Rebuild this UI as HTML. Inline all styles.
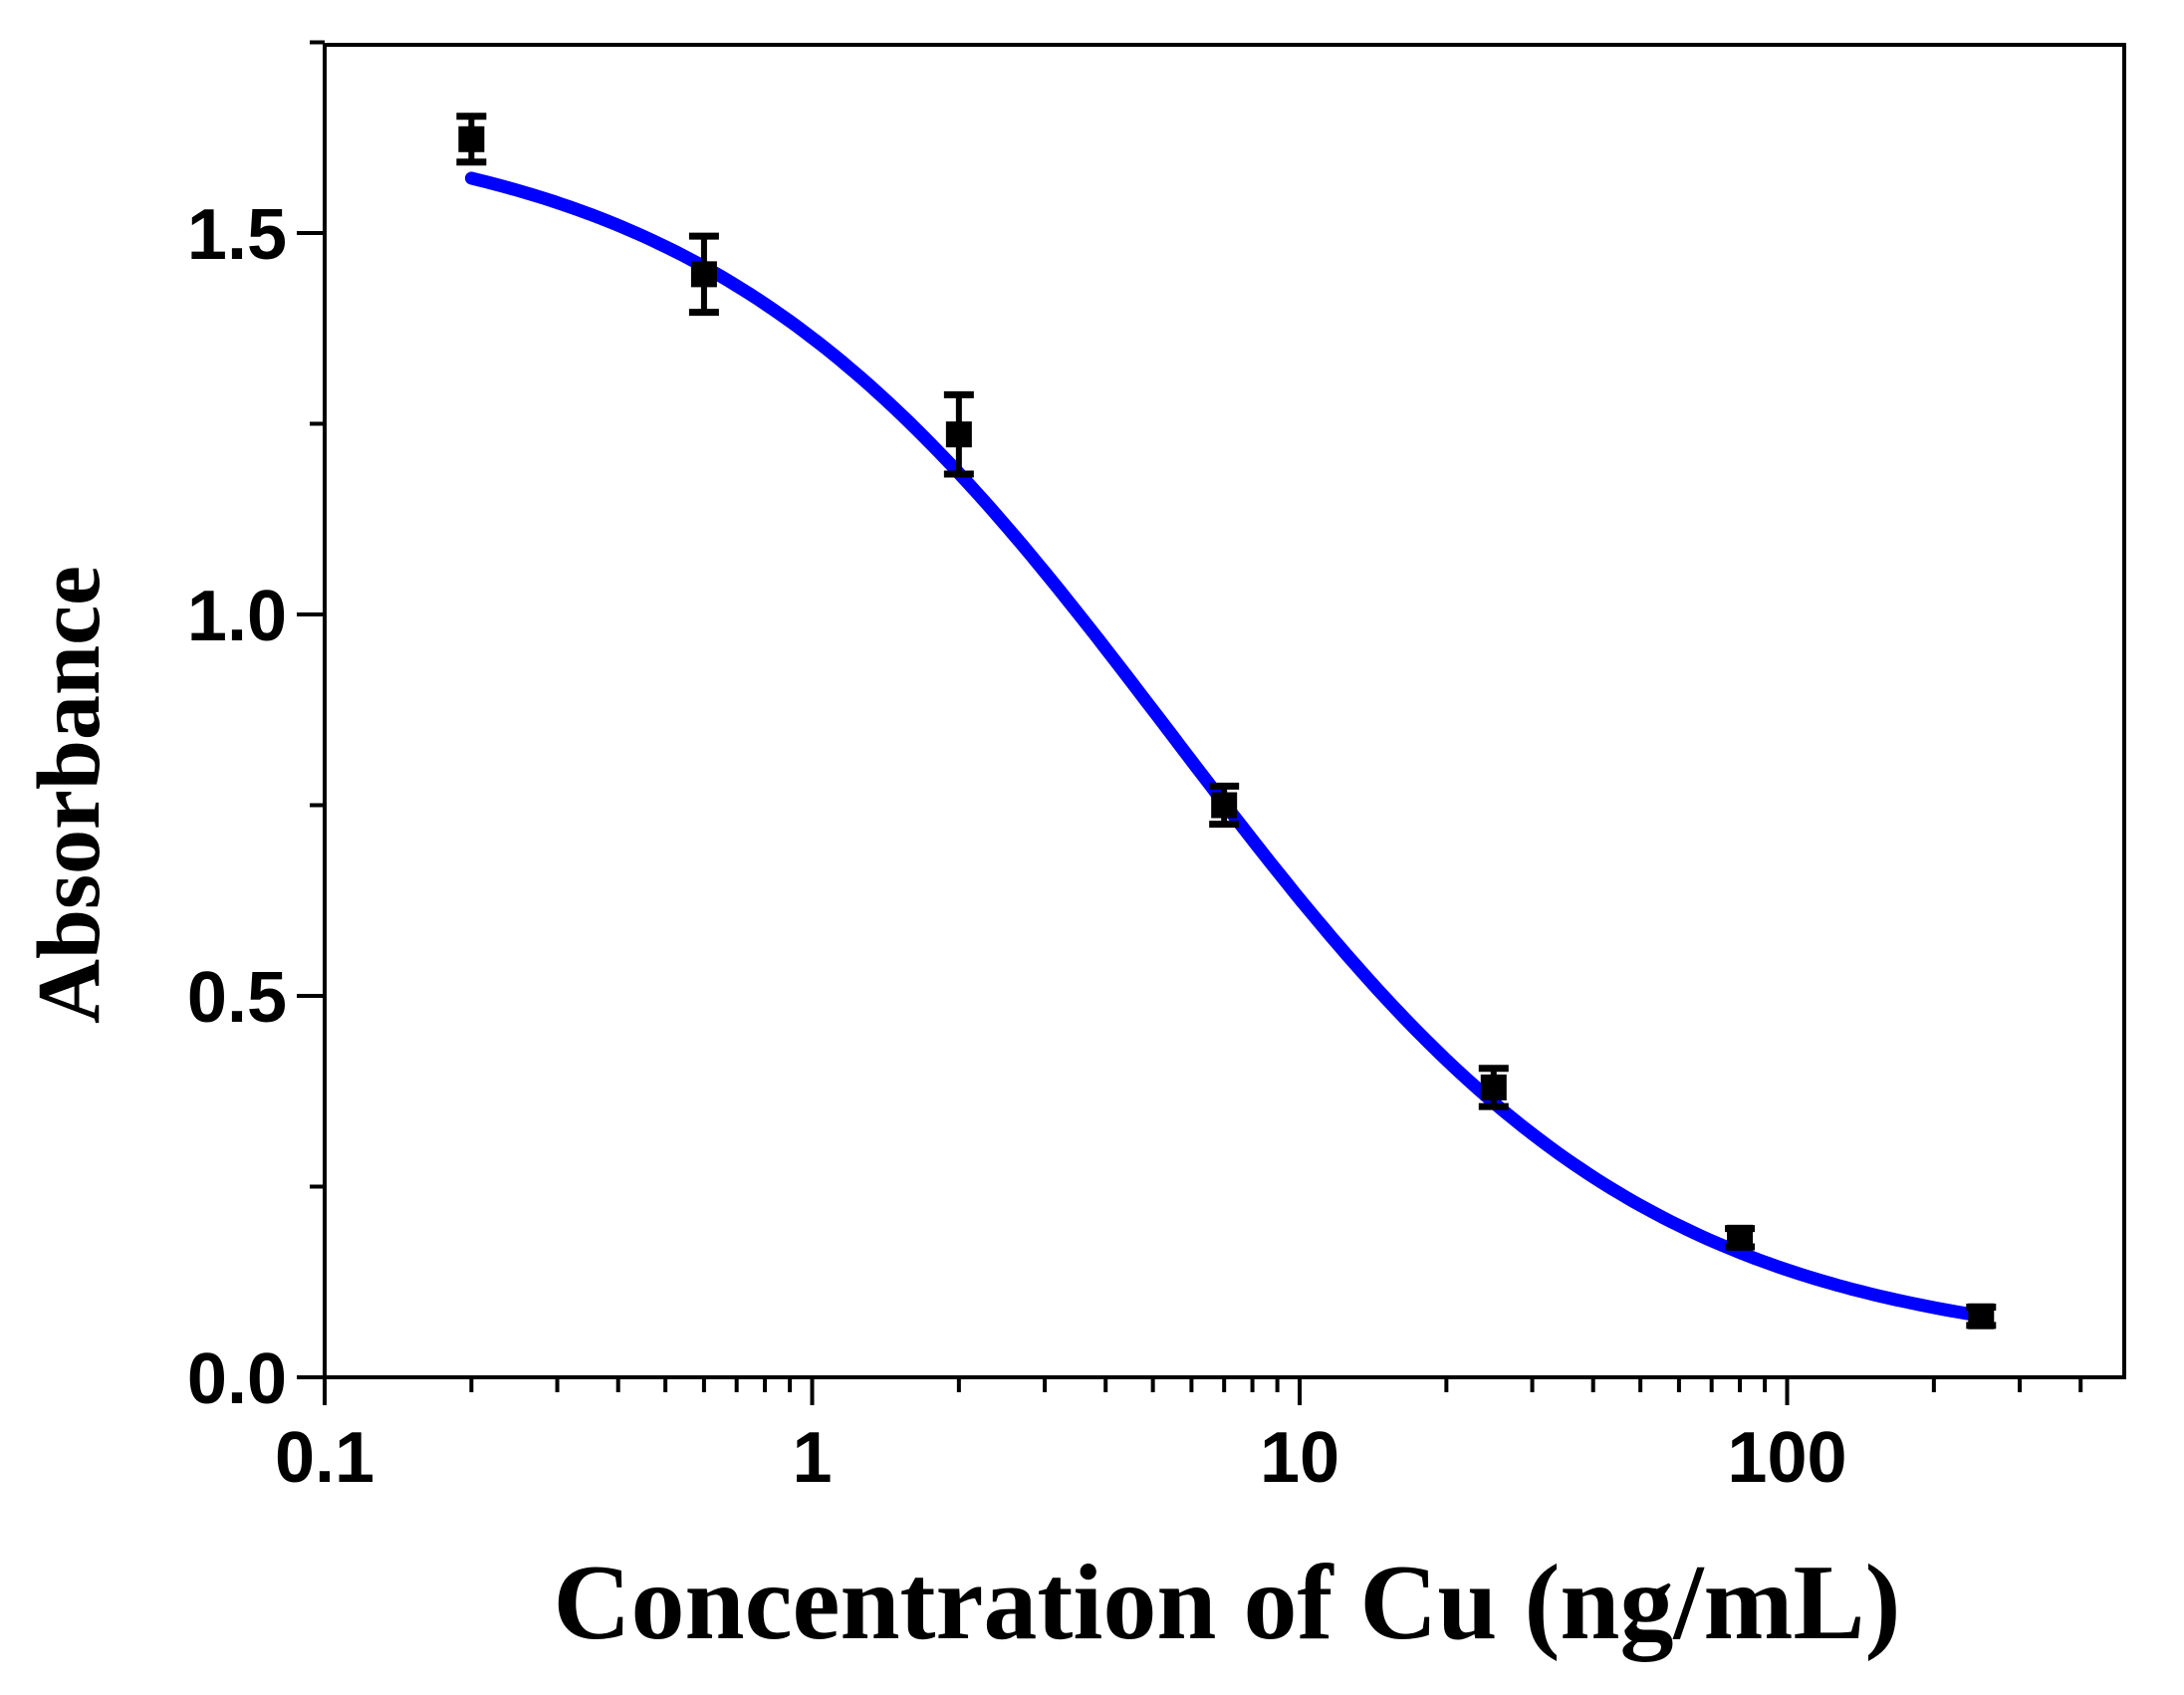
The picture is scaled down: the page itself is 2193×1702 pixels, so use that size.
<!DOCTYPE html>
<html><head><meta charset="utf-8"><style>
html,body{margin:0;padding:0;background:#fff;}
svg{display:block;}
.tick{font-family:"Liberation Sans",Arial,sans-serif;font-weight:bold;font-size:72px;fill:#000;}
.title{font-family:"Liberation Serif","Times New Roman",serif;font-weight:bold;fill:#000;}
</style></head><body>
<svg id="chart" width="2193" height="1702" viewBox="0 0 2193 1702" xmlns="http://www.w3.org/2000/svg">
<g id="axes"></g>
<g id="curve"></g>
<g id="points"></g>
<text class="title" x="1232" y="1645" text-anchor="middle" font-size="108">Concentration of Cu (ng/mL)</text>
<text class="title" transform="translate(99,798) rotate(-90)" text-anchor="middle" font-size="90">Absorbance</text>
</svg>
<script>
const concentrations = [0.2, 0.6, 2, 7, 25, 80, 250];
const absorbance = [1.623, 1.446, 1.236, 0.75, 0.38, 0.183, 0.08];
const errors = [0.03, 0.05, 0.052, 0.025, 0.025, 0.012, 0.012];
const fitParams = [1.65, 0.03, 5.5, 0.9]; // top, bottom, EC50, slope
const xTickValues = [0.1, 1, 10, 100];
const xTickLabels = ["0.1", "1", "10", "100"];
const yTickValues = [0, 0.5, 1.0, 1.5];
const yTickLabels = ["0.0", "0.5", "1.0", "1.5"];

const L = 326, R = 2133, T = 45, B = 1383;
const xMin = 0.1, decadePx = 489.5;
const yPerUnit = 766;
function X(v){ return L + Math.log10(v / xMin) * decadePx; }
function Y(v){ return B - v * yPerUnit; }
const NS = "http://www.w3.org/2000/svg";
function mk(tag, attrs, parent){
  const e = document.createElementNS(NS, tag);
  for (const k in attrs) e.setAttribute(k, attrs[k]);
  parent.appendChild(e);
  return e;
}
const axes = document.getElementById('axes');
const frame = mk('rect', {x:L, y:T, width:R-L, height:B-T, fill:'none', stroke:'#000', 'stroke-width':4}, axes);



const xMaxVal = xMin * Math.pow(10, (R - L) / decadePx);
for (let d = -1; d <= 2; d++) {
  for (let m = 1; m <= 9; m++) {
    const v = m * Math.pow(10, d);
    if (v > xMaxVal * 1.001) continue;
    const x = X(v);
    const len = m === 1 ? 28 : 15;
    const t = mk('line', {x1:x, y1:B, x2:x, y2:B+len, stroke:'#000', 'stroke-width':4}, axes);
    
    
  }
}
xTickValues.forEach((v, i) => {
  const t = mk('text', {x:X(v), y:1488, 'text-anchor':'middle', class:'tick'}, axes);
  t.textContent = xTickLabels[i];
  
  
});
for (let v = 0; v <= 1.75; v += 0.25) {
  const major = Math.abs(v * 2 - Math.round(v * 2)) < 1e-6;
  const y = Y(v);
  const t = mk('line', {x1:L, y1:y, x2:L-(major?28:15), y2:y, stroke:'#000', 'stroke-width':4}, axes);
  
  
}
yTickValues.forEach((v, i) => {
  const t = mk('text', {x:288, y:Y(v)+26, 'text-anchor':'end', class:'tick'}, axes);
  t.textContent = yTickLabels[i];
  
  
});

function fit(c){
  const [top, bot, x0, p] = fitParams;
  return bot + (top - bot) / (1 + Math.pow(c / x0, p));
}
const c0 = concentrations[0], c1 = concentrations[concentrations.length - 1];
let dstr = '';
for (let i = 0; i <= 200; i++) {
  const c = c0 * Math.pow(c1 / c0, i / 200);
  dstr += (i ? 'L' : 'M') + X(c).toFixed(1) + ' ' + Y(fit(c)).toFixed(1);
}
const path = mk('path', {d:dstr, fill:'none', stroke:'#0000ff', 'stroke-width':13, 'stroke-linecap':'round', 'stroke-linejoin':'round'}, document.getElementById('curve'));



const pts = document.getElementById('points');
concentrations.forEach((c, i) => {
  const x = X(c), y = Y(absorbance[i]);
  const yt = Y(absorbance[i] + errors[i]), yb = Y(absorbance[i] - errors[i]);
  const g = mk('g', {}, pts);
  
  
  mk('line', {x1:x, y1:yt, x2:x, y2:yb, stroke:'#000', 'stroke-width':6}, g);
  mk('line', {x1:x-15, y1:yt, x2:x+15, y2:yt, stroke:'#000', 'stroke-width':7}, g);
  mk('line', {x1:x-15, y1:yb, x2:x+15, y2:yb, stroke:'#000', 'stroke-width':7}, g);
  mk('rect', {x:x-13, y:y-13, width:26, height:26, fill:'#000'}, g);
});
</script>
</body></html>
